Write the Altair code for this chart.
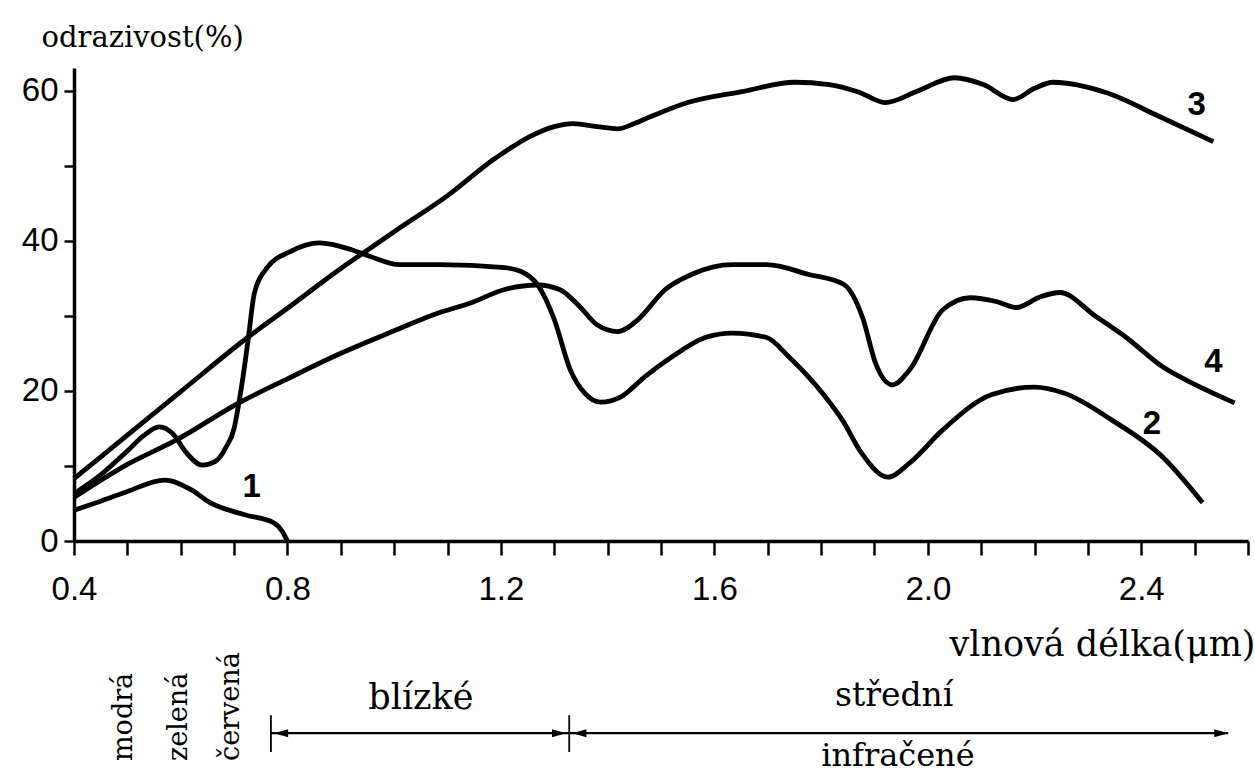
import altair as alt
import pandas as pd

# Spectral reflectance curves: wavelength (µm) and reflectance (%)
c1_wl = [0.40, 0.45, 0.50, 0.57, 0.62, 0.655, 0.72, 0.775, 0.79, 0.80]
c1_rf = [4.1, 5.3, 6.6, 8.1, 6.8, 5.1, 3.5, 2.4, 1.3, 0.0]

c2_wl = [0.40, 0.45, 0.50, 0.53, 0.56, 0.585, 0.61, 0.64, 0.665, 0.685, 0.70,
         0.709, 0.72, 0.727, 0.738, 0.763, 0.804, 0.86, 0.92, 0.955, 1.01,
         1.084, 1.207, 1.238, 1.269, 1.30, 1.33, 1.357, 1.387, 1.425, 1.47,
         1.52, 1.583, 1.633, 1.698, 1.74, 1.808, 1.84, 1.875, 1.925, 1.966,
         2.028, 2.12, 2.20, 2.255, 2.345, 2.44, 2.515]
c2_rf = [6.3, 8.8, 12.0, 14.0, 15.2, 14.3, 11.8, 10.1, 10.6, 12.5, 15.0,
         18.4, 23.5, 27.2, 33.0, 36.5, 38.5, 39.7, 38.8, 37.9, 36.8,
         36.8, 36.4, 35.9, 34.1, 29.5, 22.8, 19.7, 18.5, 19.2, 21.9,
         24.5, 27.1, 27.7, 27.1, 24.5, 19.2, 16.1, 11.8, 8.5, 10.4,
         14.8, 19.5, 20.5, 19.7, 16.1, 11.2, 5.1]

c3_wl = [0.40, 0.50, 0.60, 0.727, 0.80, 0.90, 0.945, 1.00, 1.10, 1.19, 1.255,
         1.30, 1.335, 1.38, 1.419, 1.45, 1.48, 1.55, 1.655, 1.75, 1.815, 1.87,
         1.92, 1.98, 2.05, 2.104, 2.16, 2.20, 2.235, 2.335, 2.435, 2.535]
c3_rf = [8.3, 14.1, 19.9, 27.2, 31.0, 36.3, 38.5, 41.2, 46.0, 51.0, 53.9,
         55.2, 55.6, 55.2, 54.9, 55.6, 56.5, 58.4, 59.9, 61.1, 60.8, 59.8,
         58.4, 59.9, 61.7, 60.8, 58.8, 60.3, 61.1, 59.7, 56.5, 53.2]

c4_wl = [0.40, 0.50, 0.593, 0.709, 0.80, 0.90, 1.00, 1.084, 1.143, 1.207,
         1.269, 1.31, 1.348, 1.38, 1.419, 1.457, 1.508, 1.557, 1.633, 1.698,
         1.777, 1.842, 1.878, 1.902, 1.934, 1.966, 2.028, 2.08, 2.128, 2.166,
         2.21, 2.247, 2.315, 2.37, 2.44, 2.502, 2.575]
c4_rf = [5.8, 10.2, 13.5, 18.4, 21.6, 25.0, 28.0, 30.4, 31.7, 33.5,
         34.1, 33.5, 31.2, 28.8, 27.9, 29.5, 33.5, 35.5, 36.8, 36.8,
         35.5, 34.2, 29.7, 23.7, 20.8, 22.8, 30.8, 32.4, 31.9, 31.1,
         32.5, 33.1, 29.9, 27.2, 23.2, 20.8, 18.4]

# Curve numbers and where they sit
label_text = ["1", "2", "3", "4"]
label_wl = [0.733, 2.42, 2.504, 2.535]
label_rf = [7.2, 15.6, 58.1, 23.9]

rows = []
for cid, xs, ys in [("1", c1_wl, c1_rf), ("2", c2_wl, c2_rf),
                    ("3", c3_wl, c3_rf), ("4", c4_wl, c4_rf)]:
    for x, y in zip(xs, ys):
        rows.append({"curve": cid, "wl": x, "rf": y})
curves = pd.DataFrame(rows)
labels = pd.DataFrame({"t": label_text, "wl": label_wl, "rf": label_rf})

W, H = 1174, 473
x_scale = alt.Scale(domain=[0.4, 2.6], nice=False, zero=False)
y_scale = alt.Scale(domain=[0, 63], nice=False, zero=False)

x_ticks = [round(0.4 + 0.1 * i, 1) for i in range(23)]
y_ticks = list(range(0, 61, 10))

x_axis = alt.Axis(
    values=x_ticks,
    labelExpr="(round(datum.value*10) % 4 == 0) ? format(datum.value, '.1f') : ''",
    tickSize=14, tickWidth=2.5, tickColor="black",
    domainWidth=3.5, domainColor="black",
    labelFont="Liberation Sans", labelFontSize=33, labelColor="black",
    labelPadding=18, labelFlush=False, labelOverlap=False, grid=False,
    title="vlnová délka(μm)", titleFont="DejaVu Serif", titleFontSize=35,
    titleFontWeight="normal", titleColor="black", titleAlign="right",
    titleBaseline="middle", titleX=1181, titleY=103,
)
y_axis = alt.Axis(
    values=y_ticks,
    labelExpr="datum.value % 20 == 0 ? datum.label : ''",
    tickSize=10, tickWidth=2.5, tickColor="black",
    domainWidth=3.5, domainColor="black",
    labelFont="Liberation Sans", labelFontSize=33, labelColor="black",
    labelPadding=6, labelFlush=False, labelOverlap=False, grid=False,
    title="odrazivost(%)", titleFont="DejaVu Serif", titleFontSize=29,
    titleFontWeight="normal", titleColor="black", titleAngle=0,
    titleAlign="left", titleBaseline="middle", titleX=-33, titleY=-31,
)

lines = alt.Chart(curves).mark_line(
    color="black", strokeWidth=4.8, interpolate="monotone", clip=False
).encode(
    x=alt.X("wl:Q", scale=x_scale, axis=x_axis),
    y=alt.Y("rf:Q", scale=y_scale, axis=y_axis),
    detail="curve:N",
)

nums = alt.Chart(labels).mark_text(
    font="Liberation Sans", fontSize=33, fontWeight="bold", color="black",
    align="center", baseline="middle"
).encode(x=alt.X("wl:Q", scale=x_scale), y=alt.Y("rf:Q", scale=y_scale), text="t:N")

# Spectral regions under the wavelength axis
band_text = ["modrá", "zelená", "červená"]
band_wl = [0.494, 0.597, 0.694]
bands = pd.DataFrame({"t": band_text, "wl": band_wl, "rf": [-29.3] * 3})
band_marks = alt.Chart(bands).mark_text(
    font="DejaVu Serif", fontSize=27, color="black", angle=270,
    align="left", baseline="middle"
).encode(x=alt.X("wl:Q", scale=x_scale), y=alt.Y("rf:Q", scale=y_scale), text="t:N")

ir_text = ["blízké", "střední", "infračené"]
ir_wl = [1.05, 1.937, 1.944]
ir_rf = [-20.9, -20.7, -28.7]
ir_size = [35, 33, 32]
ir = pd.DataFrame({"t": ir_text, "wl": ir_wl, "rf": ir_rf, "s": ir_size})
ir_marks = alt.Chart(ir).mark_text(
    font="DejaVu Serif", color="black", align="center", baseline="middle"
).encode(
    x=alt.X("wl:Q", scale=x_scale), y=alt.Y("rf:Q", scale=y_scale), text="t:N",
    size=alt.Size("s:Q", scale=None, legend=None),
)

span = pd.DataFrame({"a": [0.769], "b": [2.563], "rf": [-25.6]})
span_rule = alt.Chart(span).mark_rule(color="black", strokeWidth=2.2).encode(
    x=alt.X("a:Q", scale=x_scale), x2="b:Q", y=alt.Y("rf:Q", scale=y_scale)
)
bars = pd.DataFrame({"wl": [0.769, 1.328], "lo": [-28.1, -28.1], "hi": [-23.2, -23.2]})
bar_rule = alt.Chart(bars).mark_rule(color="black", strokeWidth=1.8).encode(
    x=alt.X("wl:Q", scale=x_scale), y=alt.Y("lo:Q", scale=y_scale), y2="hi:Q"
)
left_tips = pd.DataFrame({"wl": [0.775, 1.334], "rf": [-25.6, -25.6]})
right_tips = pd.DataFrame({"wl": [1.322, 2.563], "rf": [-25.6, -25.6]})
head_left = alt.Chart(left_tips).mark_point(
    shape="M0,0 L3.5,-1 L3.5,1 Z", size=64, filled=True, color="black", opacity=1
).encode(x=alt.X("wl:Q", scale=x_scale), y=alt.Y("rf:Q", scale=y_scale))
head_right = alt.Chart(right_tips).mark_point(
    shape="M0,0 L-3.5,-1 L-3.5,1 Z", size=64, filled=True, color="black", opacity=1
).encode(x=alt.X("wl:Q", scale=x_scale), y=alt.Y("rf:Q", scale=y_scale))

chart = alt.layer(
    lines, nums, band_marks, ir_marks, span_rule, bar_rule, head_left, head_right
).properties(
    width=W, height=H,
    autosize=alt.AutoSizeParams(type="none"),
    padding={"left": 74, "top": 68, "right": 7, "bottom": 238},
    background="white",
).configure_view(stroke=None)

chart.save("out.html", embed_options={"renderer": "svg", "actions": False})
